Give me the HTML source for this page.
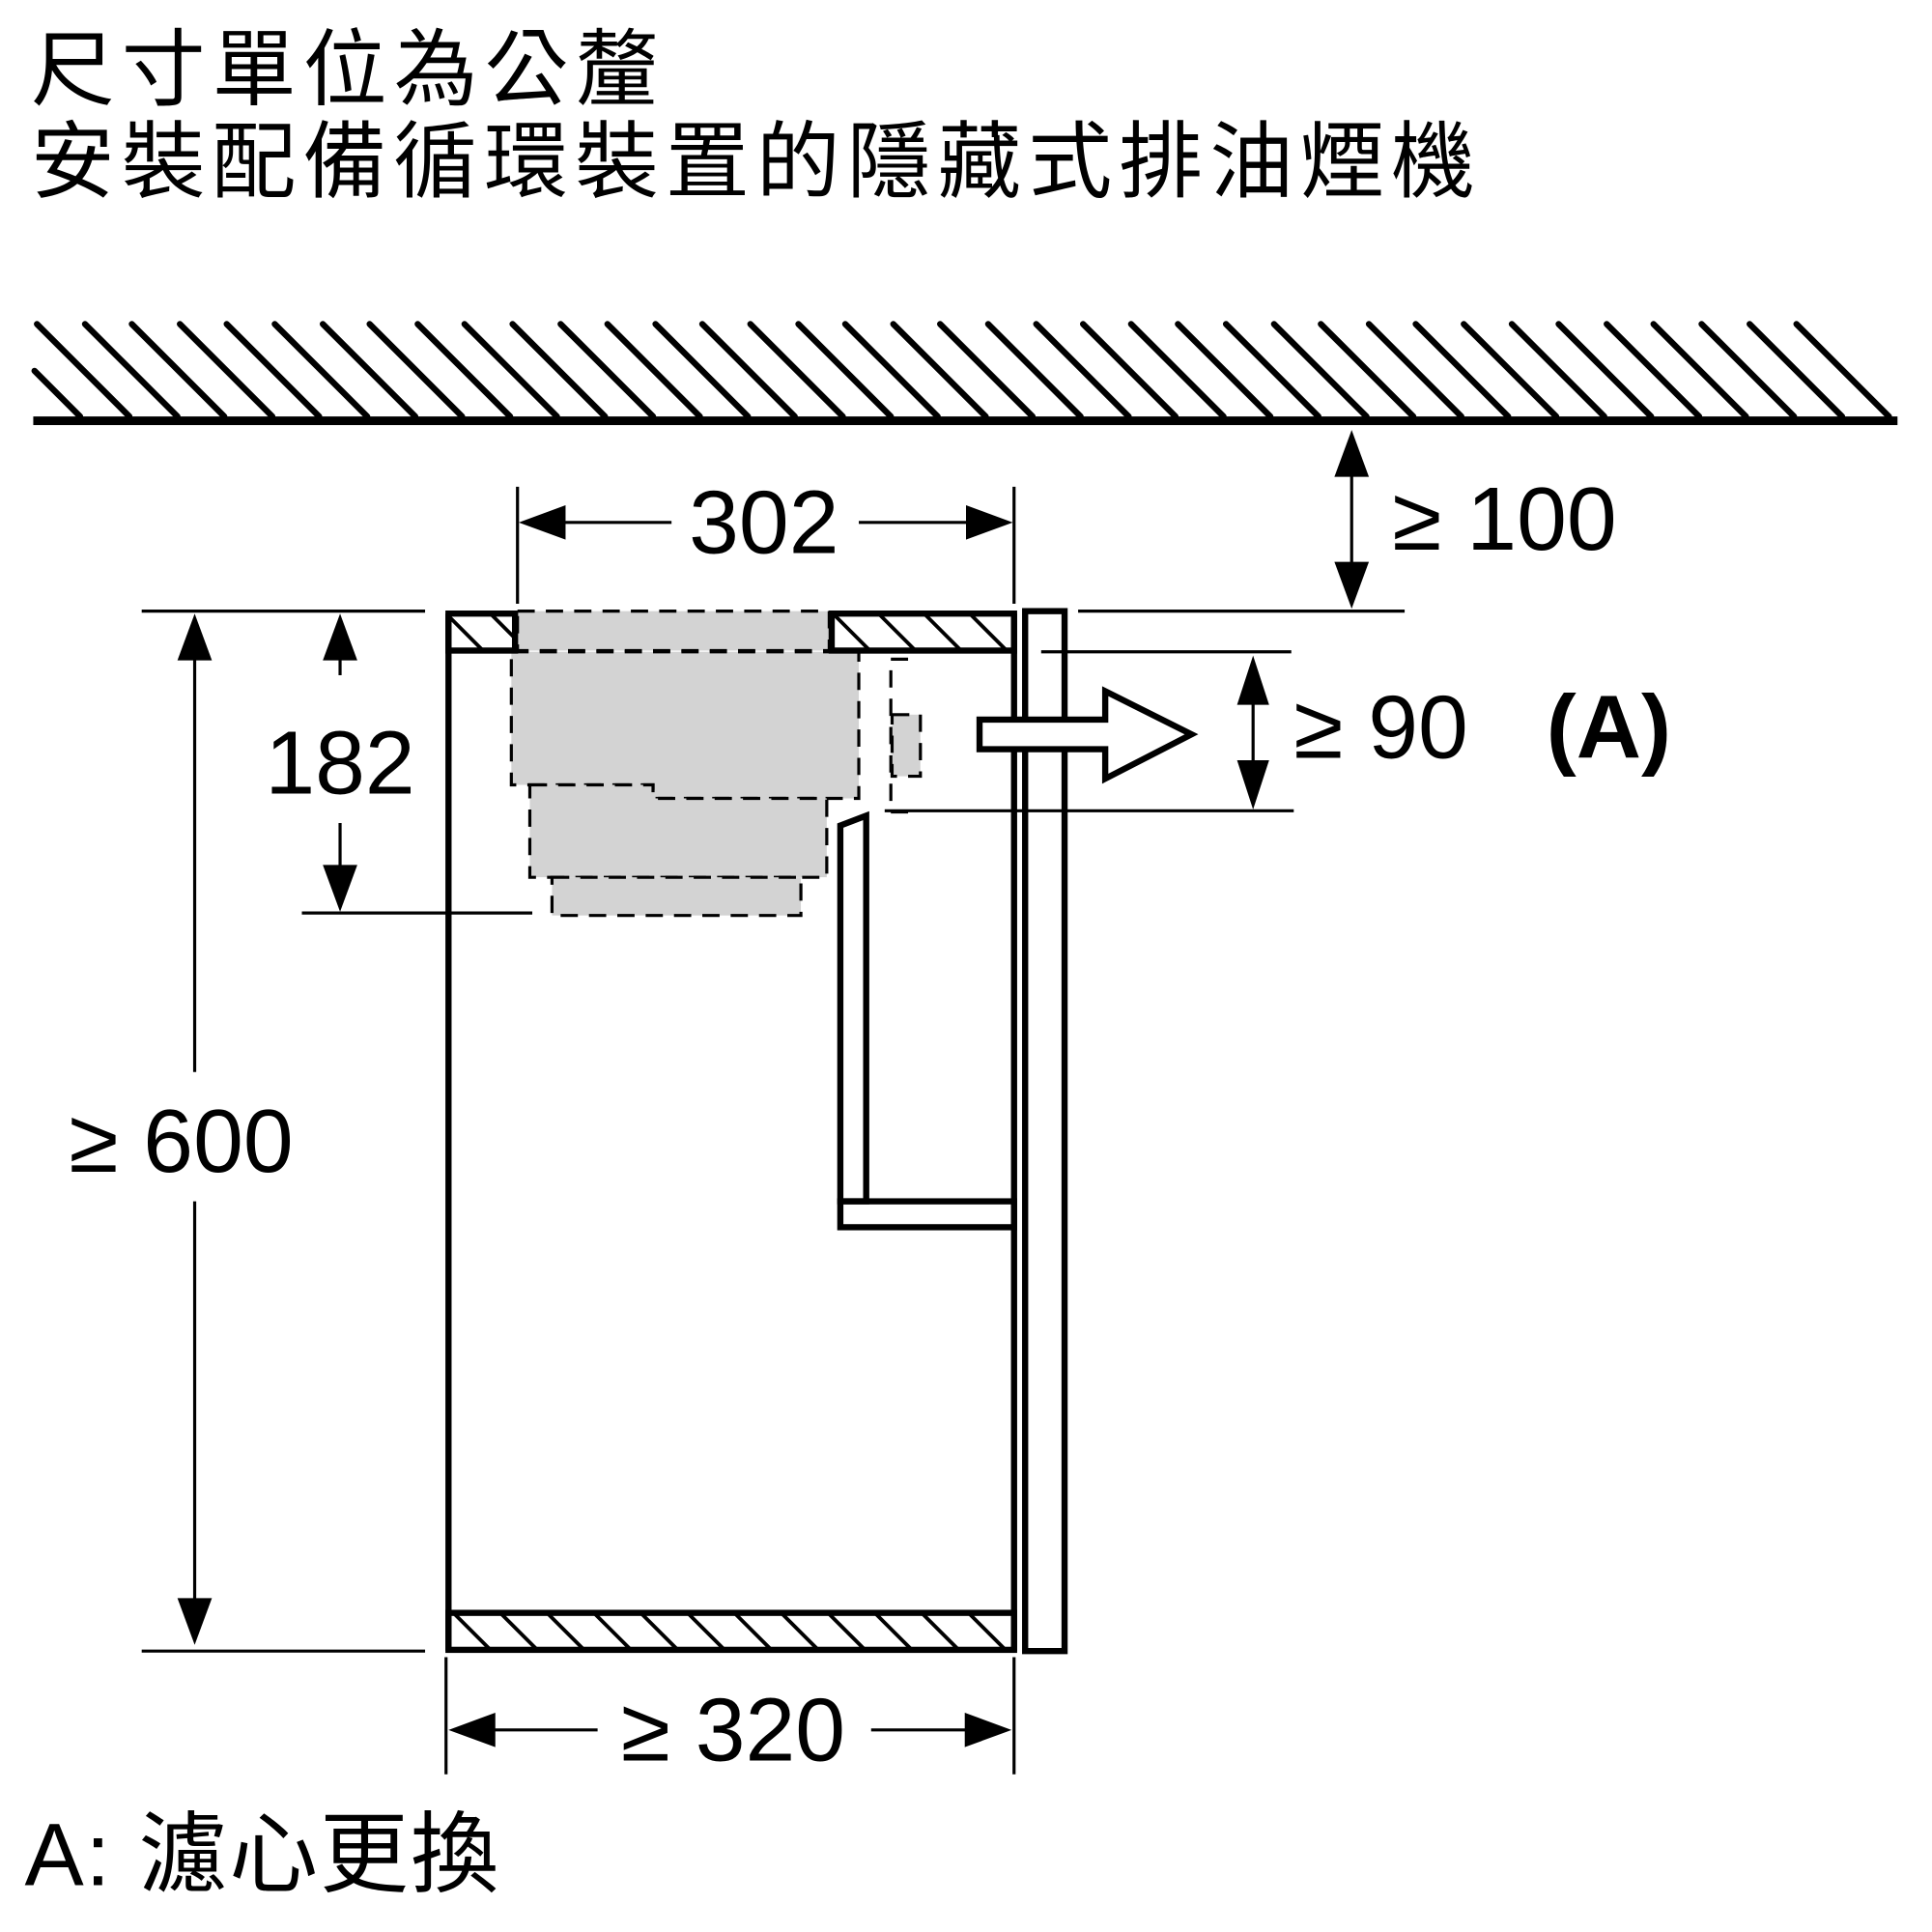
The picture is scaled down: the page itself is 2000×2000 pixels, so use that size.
<!DOCTYPE html>
<html><head><meta charset="utf-8"><style>
html,body{margin:0;padding:0;background:#fff;}
svg{display:block;}
text{font-family:"Liberation Sans","Noto Sans CJK TC",sans-serif;fill:#000;}
</style></head><body>
<svg width="2000" height="2000" viewBox="0 0 1568 1568" xmlns="http://www.w3.org/2000/svg">
<defs>
<clipPath id="ctop"><rect x="364" y="498" width="54" height="30"/><rect x="675" y="498" width="148" height="30"/></clipPath>
<clipPath id="cbot"><rect x="364" y="1309" width="459" height="30"/></clipPath>
</defs>
<text x="25" y="80" font-size="68" textLength="510" lengthAdjust="spacing">尺寸單位為公釐</text>
<text x="25" y="155" font-size="68" textLength="1172" lengthAdjust="spacing">安裝配備循環裝置的隱藏式排油煙機</text>
<path stroke="#000" stroke-width="5" stroke-linecap="round" fill="none" d="M28,301L65,338 M30,263L105,338 M69,263L144,338 M107,263L182,338 M146,263L221,338 M184,263L259,338 M223,263L298,338 M262,263L337,338 M300,263L375,338 M339,263L414,338 M377,263L452,338 M416,263L491,338 M455,263L530,338 M493,263L568,338 M532,263L607,338 M570,263L645,338 M609,263L684,338 M648,263L723,338 M686,263L761,338 M725,263L800,338 M763,263L838,338 M802,263L877,338 M841,263L916,338 M879,263L954,338 M918,263L993,338 M956,263L1031,338 M995,263L1070,338 M1034,263L1109,338 M1072,263L1147,338 M1111,263L1186,338 M1149,263L1224,338 M1188,263L1263,338 M1227,263L1302,338 M1265,263L1340,338 M1304,263L1379,338 M1342,263L1417,338 M1381,263L1456,338 M1420,263L1495,338 M1458,263L1533,338"/>
<rect x="27" y="338" width="1513" height="7" fill="#000"/>
<g stroke="#000" stroke-width="2.5" fill="none">
<line x1="1097" y1="360" x2="1097" y2="485"/>
<line x1="875" y1="496" x2="1140" y2="496"/>
<line x1="115" y1="496" x2="345" y2="496"/>
<line x1="420" y1="395" x2="420" y2="490"/>
<line x1="823" y1="395" x2="823" y2="490"/>
<line x1="430" y1="424" x2="545" y2="424"/>
<line x1="697" y1="424" x2="815" y2="424"/>
<line x1="845" y1="529" x2="1048" y2="529"/>
<line x1="718" y1="658" x2="1050" y2="658"/>
<line x1="1017" y1="540" x2="1017" y2="650"/>
<line x1="276" y1="505" x2="276" y2="548"/>
<line x1="276" y1="668" x2="276" y2="735"/>
<line x1="245" y1="741" x2="432" y2="741"/>
<line x1="158" y1="505" x2="158" y2="870"/>
<line x1="158" y1="975" x2="158" y2="1330"/>
<line x1="115" y1="1340" x2="345" y2="1340"/>
<line x1="362" y1="1345" x2="362" y2="1440"/>
<line x1="823" y1="1345" x2="823" y2="1440"/>
<line x1="370" y1="1404" x2="485" y2="1404"/>
<line x1="707" y1="1404" x2="815" y2="1404"/>
</g>
<g fill="#000">
<polygon points="1097,349 1083,387 1111,387"/>
<polygon points="1097,494 1083,456 1111,456"/>
<polygon points="421,424 459,410 459,438"/>
<polygon points="822,424 784,410 784,438"/>
<polygon points="1017,532 1004,572 1030,572"/>
<polygon points="1017,657 1004,617 1030,617"/>
<polygon points="276,498 262,536 290,536"/>
<polygon points="276,740 262,702 290,702"/>
<polygon points="158,498 144,536 172,536"/>
<polygon points="158,1335 144,1297 172,1297"/>
<polygon points="364,1404 402,1390 402,1418"/>
<polygon points="821,1404 783,1390 783,1418"/>
</g>
<g stroke="#000" stroke-width="3" fill="none" clip-path="url(#ctop)">
<path d="M362,498l30,30 M398,498l30,30 M676,498l30,30 M713,498l30,30 M750,498l30,30 M787,498l30,30 M824,498l30,30 M639,498l30,30"/>
</g>
<g stroke="#000" stroke-width="3" fill="none" clip-path="url(#cbot)">
<path d="M330,1309l30,30 M368,1309l30,30 M406,1309l30,30 M444,1309l30,30 M482,1309l30,30 M520,1309l30,30 M558,1309l30,30 M596,1309l30,30 M634,1309l30,30 M672,1309l30,30 M710,1309l30,30 M748,1309l30,30 M786,1309l30,30"/>
</g>
<g fill="#d3d3d3" stroke="#000" stroke-width="2.5" stroke-dasharray="14,9">
<rect x="420" y="496" width="253" height="32"/>
<path d="M415,529 H697 V648 H530 V637 H415 Z"/>
<path d="M430,637 H530 V648 H671 V712 H430 Z"/>
<rect x="448" y="712" width="202" height="31"/>
<rect x="724" y="580" width="23" height="50"/>
<path d="M737,535 H723 V659 H737" fill="none"/>
</g>
<g stroke="#000" stroke-width="5" fill="none">
<rect x="364" y="498" width="54" height="30"/>
<rect x="675" y="498" width="148" height="30"/>
<rect x="364" y="1309" width="459" height="30"/>
<line x1="364" y1="498" x2="364" y2="1340"/>
<line x1="823" y1="498" x2="823" y2="1340"/>
<rect x="832" y="496" width="32" height="844"/>
<polygon points="682,670 703,662 703,975 682,975" fill="#fff"/>
<rect x="682" y="975" width="141" height="21"/>
<polygon points="795,584 897,584 897,561 967,596 897,632 897,608 795,608" fill="#fff"/>
</g>
<g font-size="73">
<text x="1130" y="446">≥ 100</text>
<text x="620" y="449" text-anchor="middle">302</text>
<text x="1050" y="615">≥ 90</text>
<text x="1255" y="615" font-weight="bold">(A)</text>
<text x="276" y="644" text-anchor="middle">182</text>
<text x="147" y="951" text-anchor="middle">≥ 600</text>
<text x="595" y="1429" text-anchor="middle">≥ 320</text>
</g>
<text x="20" y="1530" font-size="72" textLength="385" lengthAdjust="spacing">A: 濾心更換</text>
</svg>
</body></html>
